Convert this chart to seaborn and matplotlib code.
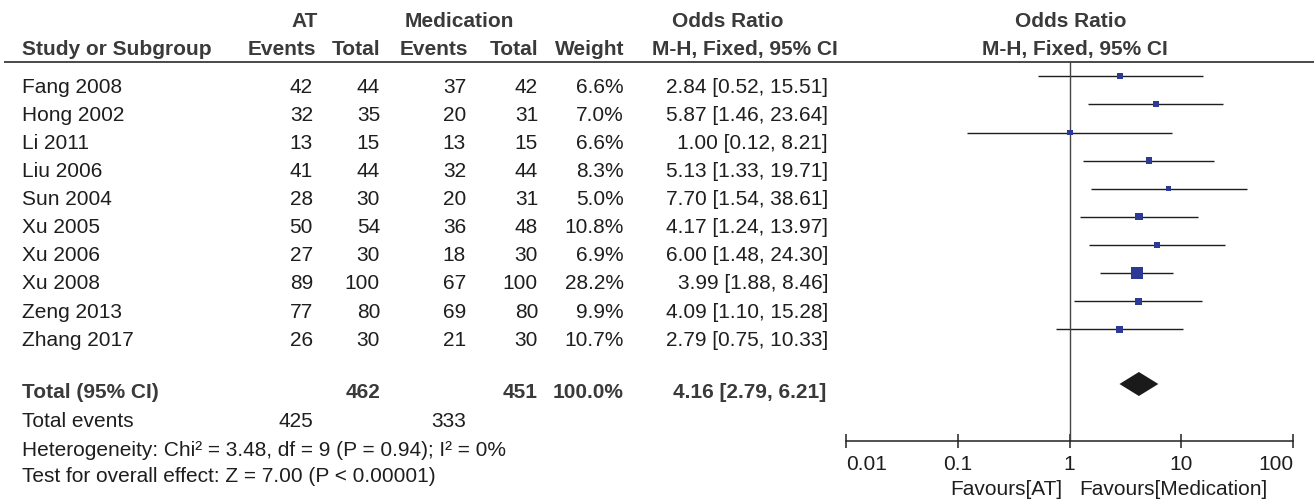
import pandas as pd
import matplotlib
matplotlib.use('Agg')
import matplotlib.pyplot as plt
import seaborn as sns

# data
studies = ['Fang 2008', 'Hong 2002', 'Li 2011', 'Liu 2006', 'Sun 2004',
           'Xu 2005', 'Xu 2006', 'Xu 2008', 'Zeng 2013', 'Zhang 2017']
at_events = [42, 32, 13, 41, 28, 50, 27, 89, 77, 26]
at_total = [44, 35, 15, 44, 30, 54, 30, 100, 80, 30]
med_events = [37, 20, 13, 32, 20, 36, 18, 67, 69, 21]
med_total = [42, 31, 15, 44, 31, 48, 30, 100, 80, 30]
weights = [6.6, 7.0, 6.6, 8.3, 5.0, 10.8, 6.9, 28.2, 9.9, 10.7]
odds = [2.84, 5.87, 1.00, 5.13, 7.70, 4.17, 6.00, 3.99, 4.09, 2.79]
ci_low = [0.52, 1.46, 0.12, 1.33, 1.54, 1.24, 1.48, 1.88, 1.10, 0.75]
ci_high = [15.51, 23.64, 8.21, 19.71, 38.61, 13.97, 24.30, 8.46, 15.28, 10.33]

total_or = [4.16, 2.79, 6.21]
total_n = [462, 451]
total_weight = 100.0
total_events = [425, 333]
heterogeneity = 'Heterogeneity: Chi² = 3.48, df = 9 (P = 0.94); I² = 0%'
overall = 'Test for overall effect: Z = 7.00 (P < 0.00001)'
ticks = [0.01, 0.1, 1, 10, 100]
tick_labels = ['0.01', '0.1', '1', '10', '100']


def main():
    sns.set_style('white')
    plt.rcParams['font.family'] = ['Liberation Sans', 'DejaVu Sans']
    W, H = 1314, 502
    fs = 15
    body = '#1e1e1e'
    head = '#3a3a3a'

    fig = plt.figure(figsize=(W / 100, H / 100), dpi=100)
    bg = fig.add_axes([0, 0, 1, 1])
    bg.set_xlim(0, W)
    bg.set_ylim(H, 0)
    bg.axis('off')

    # column headers
    hb = dict(fontsize=fs, fontweight='bold', color=head, va='baseline')
    bg.text(305, 27, 'AT', ha='center', **hb)
    bg.text(459, 27, 'Medication', ha='center', **hb)
    bg.text(728, 27, 'Odds Ratio', ha='center', **hb)
    bg.text(1071, 27, 'Odds Ratio', ha='center', **hb)
    bg.text(22, 55, 'Study or Subgroup', ha='left', **hb)
    bg.text(316, 55, 'Events', ha='right', **hb)
    bg.text(380, 55, 'Total', ha='right', **hb)
    bg.text(468, 55, 'Events', ha='right', **hb)
    bg.text(538, 55, 'Total', ha='right', **hb)
    bg.text(624, 55, 'Weight', ha='right', **hb)
    bg.text(745, 55, 'M-H, Fixed, 95% CI', ha='center', **hb)
    bg.text(1075, 55, 'M-H, Fixed, 95% CI', ha='center', **hb)
    bg.plot([4, W], [63.3, 63.3], color='#2a2a2a', lw=1.2, solid_capstyle='butt')

    # study rows
    tb = dict(fontsize=fs, color=body, va='baseline')
    line_y = [77.3 + 28.1 * i for i in range(len(studies))]
    for i, name in enumerate(studies):
        y = line_y[i] + 15.5
        bg.text(22, y, name, ha='left', **tb)
        bg.text(313, y, str(at_events[i]), ha='right', **tb)
        bg.text(380, y, str(at_total[i]), ha='right', **tb)
        bg.text(466, y, str(med_events[i]), ha='right', **tb)
        bg.text(538, y, str(med_total[i]), ha='right', **tb)
        bg.text(624, y, f'{weights[i]:.1f}%', ha='right', **tb)
        bg.text(828, y, f'{odds[i]:.2f} [{ci_low[i]:.2f}, {ci_high[i]:.2f}]', ha='right', **tb)

    # totals and footer
    bt = dict(fontsize=fs, fontweight='bold', color=head, va='baseline')
    bg.text(22, 398, 'Total (95% CI)', ha='left', **bt)
    bg.text(380, 398, str(total_n[0]), ha='right', **bt)
    bg.text(538, 398, str(total_n[1]), ha='right', **bt)
    bg.text(624, 398, f'{total_weight:.1f}%', ha='right', **bt)
    bg.text(826, 398, f'{total_or[0]:.2f} [{total_or[1]:.2f}, {total_or[2]:.2f}]', ha='right', **bt)
    bg.text(22, 427, 'Total events', ha='left', **tb)
    bg.text(313, 427, str(total_events[0]), ha='right', **tb)
    bg.text(466, 427, str(total_events[1]), ha='right', **tb)
    bg.text(22, 456, heterogeneity, ha='left', **tb)
    bg.text(22, 482, overall, ha='left', **tb)
    bg.text(1062, 495, 'Favours[AT]', ha='right', **tb)
    bg.text(1079, 495, 'Favours[Medication]', ha='left', **tb)

    # forest panel
    x0, x1 = 846, 1293.3
    ax = fig.add_axes([x0 / W, 0, (x1 - x0) / W, 1])
    ax.patch.set_alpha(0)
    df = pd.DataFrame({'study': studies, 'odds': odds, 'lo': ci_low,
                       'hi': ci_high, 'weight': weights, 'y': line_y})
    ax.hlines(df['y'], df['lo'], df['hi'], color='#1e1e1e', lw=1.0)
    ax.vlines(1, 63.3, 442, color='#444444', lw=1.0)
    sns.scatterplot(data=df, x='odds', y='y', size='weight', sizes=(0, 74),
                    size_norm=(0, 28.2), marker='s', color='#2c3a96',
                    linewidth=0, legend=False, ax=ax, zorder=3)
    est, lo, hi = total_or
    ax.fill([lo, est, hi, est], [385, 373, 385, 397], color='#1a1a1a', lw=0)

    ax.set_xscale('log')
    ax.set_xlim(ticks[0], ticks[-1])
    ax.set_ylim(H, 0)
    ax.set_xlabel('')
    ax.set_ylabel('')
    for s in ['top', 'left', 'right']:
        ax.spines[s].set_visible(False)
    ax.spines['bottom'].set_position(('data', 442))
    ax.spines['bottom'].set_color('#222222')
    ax.spines['bottom'].set_linewidth(1.1)
    ax.set_yticks([])
    ax.set_xticks(ticks)
    ax.set_xticklabels(tick_labels)
    ax.minorticks_off()
    ax.tick_params(axis='x', direction='inout', length=9.4, width=1.1,
                   color='#222222', labelsize=fs, labelcolor=body, pad=5,
                   bottom=True)
    labels = ax.get_xticklabels()
    labels[0].set_ha('left')
    labels[-1].set_ha('right')

    fig.savefig('out.png', dpi=100)


if __name__ == '__main__':
    main()
